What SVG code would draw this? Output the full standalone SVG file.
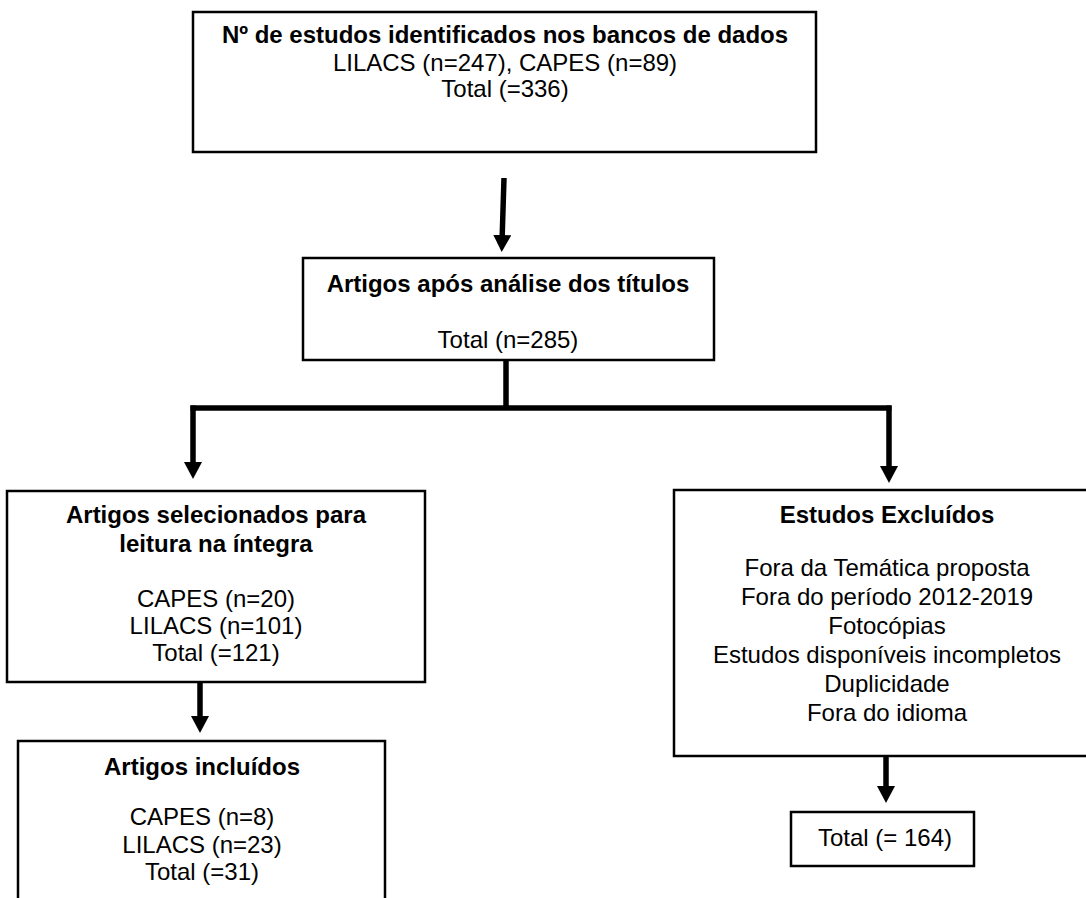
<svg xmlns="http://www.w3.org/2000/svg" width="1086" height="898" viewBox="0 0 1086 898">
<defs>
<style>
.box{fill:#fff;stroke:#000;stroke-width:2.5}
.t{font-family:"Liberation Sans",Arial,sans-serif;font-size:24px;fill:#000;text-anchor:middle}
.b{font-weight:bold}
.c{fill:none;stroke:#000;stroke-width:5.5}
</style>
<marker id="ah" markerUnits="userSpaceOnUse" markerWidth="18" markerHeight="18" refX="7" refY="9" orient="auto">
<path d="M0,0 L17,9 L0,18 Z" fill="#000"/>
</marker>
</defs>
<rect width="1086" height="898" fill="#fff"/>
<g id="connectors">
<path class="c" d="M504,178 L502,242" marker-end="url(#ah)"/>
<path class="c" d="M506,360 L506,408"/>
<path class="c" d="M190.5,408 L891.5,408"/>
<path class="c" d="M193,405.5 L193,469" marker-end="url(#ah)"/>
<path class="c" d="M889,405.5 L889,473" marker-end="url(#ah)"/>
<path class="c" d="M200,682 L200,723" marker-end="url(#ah)"/>
<path class="c" d="M886,756 L886,793" marker-end="url(#ah)"/>
</g>
<g id="n1">
<rect class="box" x="193" y="12" width="623" height="140"/>
<text class="t b" x="505" y="43">Nº de estudos identificados nos bancos de dados</text>
<text class="t" x="505" y="71">LILACS (n=247), CAPES (n=89)</text>
<text class="t" x="505" y="97">Total (=336)</text>
</g>
<g id="n2">
<rect class="box" x="303" y="258" width="411" height="102"/>
<text class="t b" x="508" y="292">Artigos após análise dos títulos</text>
<text class="t" x="508" y="348">Total (n=285)</text>
</g>
<g id="n3">
<rect class="box" x="7" y="491" width="418" height="191"/>
<text class="t b" x="216" y="523">Artigos selecionados para</text>
<text class="t b" x="216" y="552">leitura na íntegra</text>
<text class="t" x="216" y="607">CAPES (n=20)</text>
<text class="t" x="216" y="634">LILACS (n=101)</text>
<text class="t" x="216" y="661">Total (=121)</text>
</g>
<g id="n4">
<rect class="box" x="18" y="741" width="367" height="180"/>
<text class="t b" x="202" y="775">Artigos incluídos</text>
<text class="t" x="202" y="825">CAPES (n=8)</text>
<text class="t" x="202" y="853">LILACS (n=23)</text>
<text class="t" x="202" y="880">Total (=31)</text>
</g>
<g id="n5">
<rect class="box" x="674" y="490" width="426" height="266"/>
<text class="t b" x="887" y="523">Estudos Excluídos</text>
<text class="t" x="887" y="576">Fora da Temática proposta</text>
<text class="t" x="887" y="605">Fora do período 2012-2019</text>
<text class="t" x="887" y="634">Fotocópias</text>
<text class="t" x="887" y="663">Estudos disponíveis incompletos</text>
<text class="t" x="887" y="692">Duplicidade</text>
<text class="t" x="887" y="721">Fora do idioma</text>
</g>
<g id="n6">
<rect class="box" x="791" y="812" width="183" height="54"/>
<text class="t" x="885" y="846">Total (= 164)</text>
</g>
</svg>
